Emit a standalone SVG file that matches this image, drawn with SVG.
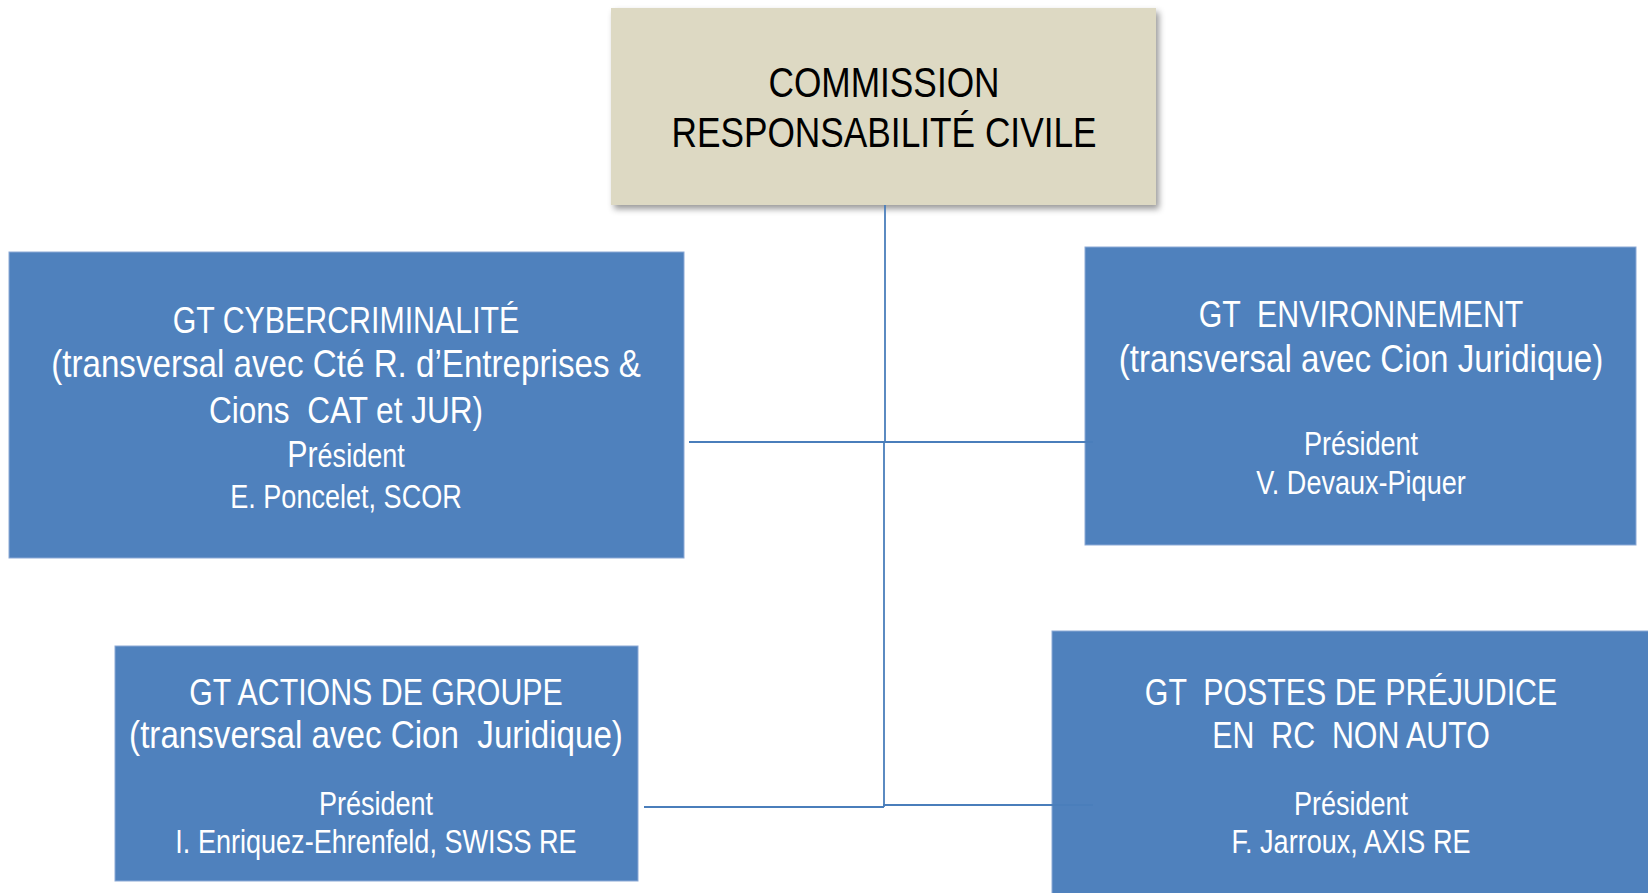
<svg xmlns="http://www.w3.org/2000/svg" width="1648" height="893" viewBox="0 0 1648 893">
<defs>
<filter id="shadow" x="-5%" y="-5%" width="115%" height="125%">
<feDropShadow dx="3" dy="4" stdDeviation="3" flood-color="#000" flood-opacity="0.4"/>
</filter>
<style>
.box{fill:#4F81BD;stroke:#8CA9D6;stroke-width:1}
.top{fill:#DDD9C3}
text{font-family:"Liberation Sans Narrow","Arial Narrow","Liberation Sans",Arial,sans-serif;text-anchor:middle}
.w{fill:#FFFFFF}
.k{fill:#000000;font-size:43px}
.t{font-size:37px}
.p{font-size:39px}
.s{font-size:33px}
.conn{stroke:#4A7EBB;stroke-width:1.8;fill:none}
</style>
</defs>
<g id="commission">
<rect class="top" x="611" y="8" width="545" height="197" filter="url(#shadow)"/>
<g transform="translate(884 0) scale(0.82 1)">
<text class="k" x="0" y="97">COMMISSION</text>
<text class="k" x="0" y="147">RESPONSABILITÉ CIVILE</text>
</g>
</g>
<g id="gt-cyber">
<rect class="box" x="9" y="252" width="675" height="306"/>
<g transform="translate(346 0) scale(0.82 1)">
<text class="w t" x="0" y="333">GT CYBERCRIMINALITÉ</text>
<text class="w p" x="0" y="377" transform="scale(1.037 1)" xml:space="preserve">(transversal avec Cté R. d’Entreprises &amp;</text>
<text class="w t" x="0" y="423" transform="scale(1.04 1)" xml:space="preserve">Cions  CAT et JUR)</text>
<text class="w s" x="0" y="467"><tspan style="font-size:37px">Pr</tspan>ésident</text>
<text class="w s" x="0" y="508">E. Poncelet, SCOR</text>
</g>
</g>
<g id="gt-env">
<rect class="box" x="1085" y="247" width="551" height="298"/>
<g transform="translate(1361 0) scale(0.82 1)">
<text class="w t" x="0" y="327" xml:space="preserve">GT  ENVIRONNEMENT</text>
<text class="w p" x="0" y="372" transform="scale(1.037 1)">(transversal avec Cion Juridique)</text>
<text class="w s" x="0" y="455">Président</text>
<text class="w s" x="0" y="494">V. Devaux-Piquer</text>
</g>
</g>
<g id="gt-actions">
<rect class="box" x="115" y="646" width="523" height="235"/>
<g transform="translate(376 0) scale(0.82 1)">
<text class="w t" x="0" y="705">GT ACTIONS DE GROUPE</text>
<text class="w p" x="0" y="748" transform="scale(1.037 1)" xml:space="preserve">(transversal avec Cion  Juridique)</text>
<text class="w s" x="0" y="815">Président</text>
<text class="w s" x="0" y="853">I. Enriquez-Ehrenfeld, SWISS RE</text>
</g>
</g>
<g id="gt-postes">
<rect class="box" x="1052" y="631" width="620" height="290"/>
<g transform="translate(1351 0) scale(0.82 1)">
<text class="w t" x="0" y="705" xml:space="preserve">GT  POSTES DE PRÉJUDICE</text>
<text class="w t" x="0" y="748" xml:space="preserve">EN  RC  NON AUTO</text>
<text class="w s" x="0" y="815">Président</text>
<text class="w s" x="0" y="853">F. Jarroux, AXIS RE</text>
</g>
</g>
<g id="connectors">
<path class="conn" d="M885 205 V442"/>
<path class="conn" d="M689 442 H1093"/>
<path class="conn" d="M884 442 V807"/>
<path class="conn" d="M644 807 H884"/>
<path class="conn" d="M883 805 H1093"/>
</g>
</svg>
